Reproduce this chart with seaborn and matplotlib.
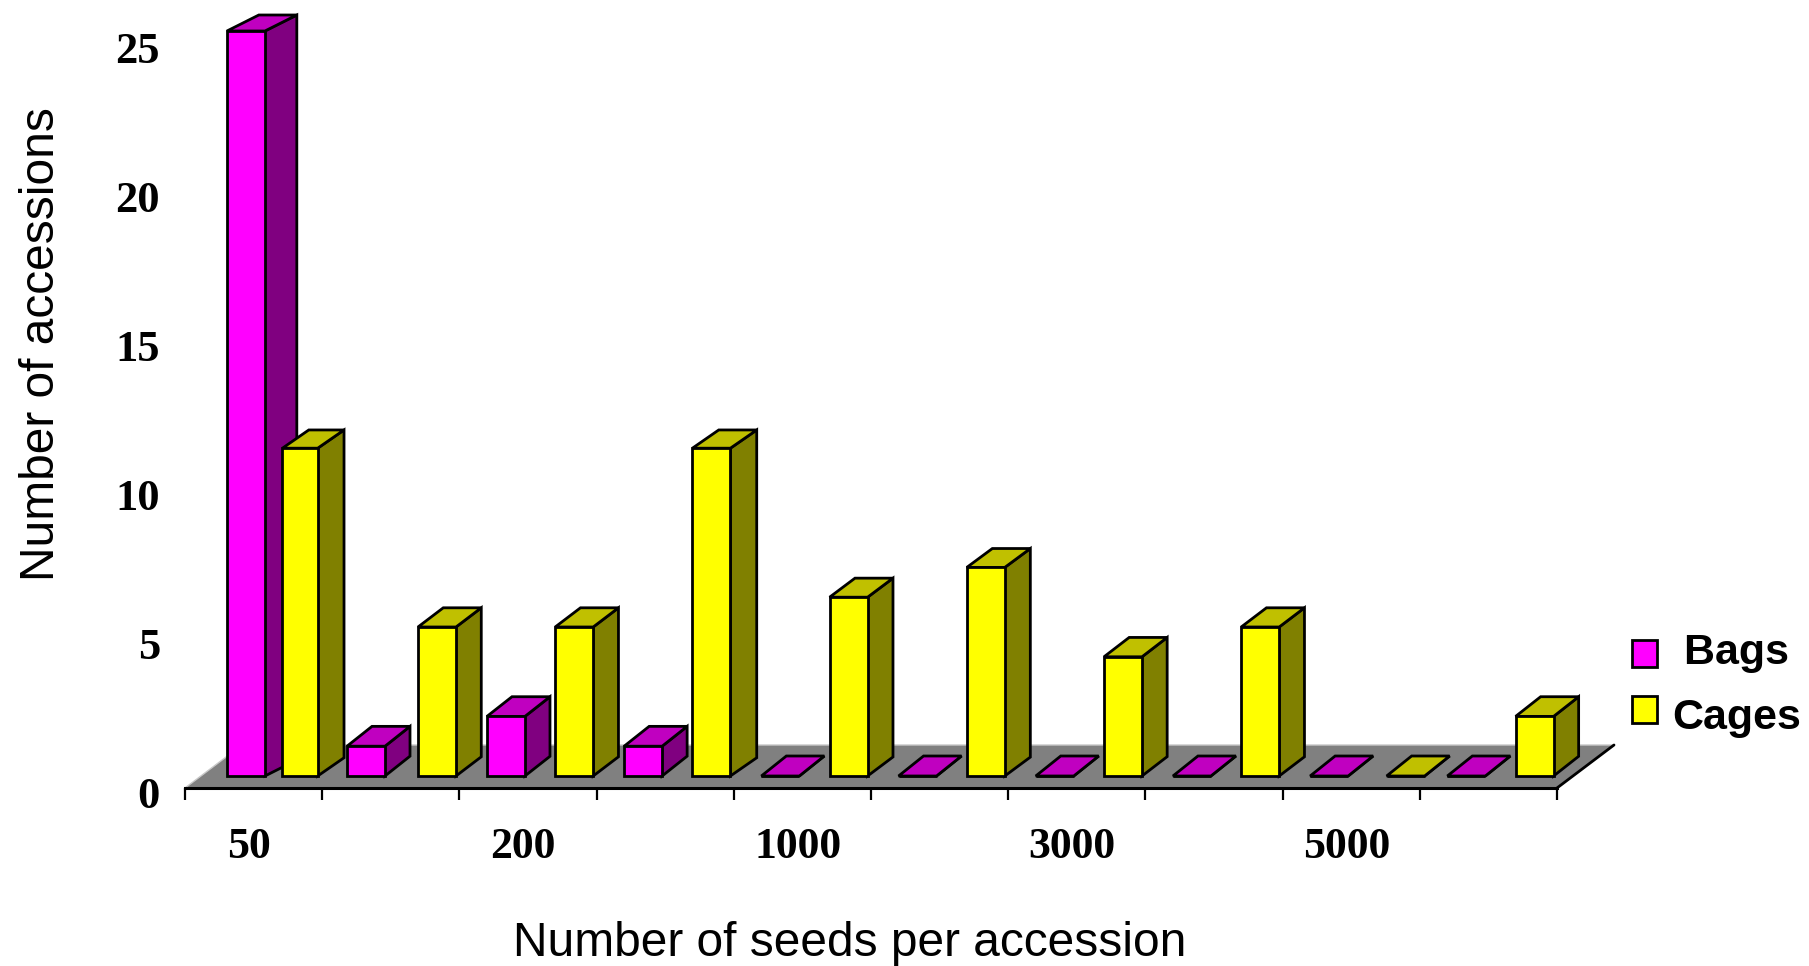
import matplotlib
matplotlib.use("Agg")
import matplotlib.pyplot as plt
import matplotlib.transforms as mtrans
from matplotlib.patches import Polygon
import numpy as np
import pandas as pd
import seaborn as sns

# values
bins = [1, 2, 3, 4, 5, 6, 7, 8, 9, 10]
bags = [25, 1, 2, 1, 0, 0, 0, 0, 0, 0]
cages = [11, 5, 5, 11, 6, 7, 4, 5, 0, 2]
bin_labels = ["50", "200", "1000", "3000", "5000"]
y_ticks = [0, 5, 10, 15, 20, 25]

front = {"Bags": "#FF00FF", "Cages": "#FFFF00"}
top = {"Bags": "#C000C0", "Cages": "#C0C000"}
side = {"Bags": "#800080", "Cages": "#808000"}

W, H = 1809, 966
X_UNIT = 137.2  # px per category
Y_UNIT = 29.8  # px per accession
LW = 2

sns.set_style("white")
plt.rcParams["font.family"] = ["Liberation Sans", "DejaVu Sans"]
plt.rcParams["text.color"] = "black"
plt.rcParams["axes.labelcolor"] = "black"
plt.rcParams["xtick.color"] = "black"
plt.rcParams["ytick.color"] = "black"
plt.rcParams["axes.edgecolor"] = "black"

df = pd.DataFrame({"bin": bins * 2,
                   "count": bags + cages,
                   "method": ["Bags"] * len(bins) + ["Cages"] * len(bins)})

fig = plt.figure(figsize=(W / 100, H / 100), dpi=100, facecolor="white")

# front edge of the floor: carries the ticks and the labels
ax_axis = fig.add_axes([185 / W, 1 - 788 / H, 1372 / W, 788 / H])
ax_axis.set_xlim(-0.5, 9.5)
ax_axis.set_ylim(0, 788 / Y_UNIT)
ax_axis.patch.set_visible(False)
for s in ["top", "right", "left"]:
    ax_axis.spines[s].set_visible(False)
ax_axis.spines["bottom"].set_linewidth(2.2)

floor_dx, floor_dy = 57 / X_UNIT, 43 / Y_UNIT
ax_axis.add_patch(Polygon([(-0.5, 0), (9.5, 0), (9.5 + floor_dx, floor_dy), (-0.5 + floor_dx, floor_dy)],
                          closed=True, facecolor="#808080", edgecolor="none", clip_on=False, zorder=1))
ax_axis.plot([-0.5, -0.5 + floor_dx, 9.5 + floor_dx], [0, floor_dy, floor_dy],
             color="#C8C8C8", lw=1, clip_on=False, zorder=1.1)
ax_axis.plot([9.5, 9.5 + floor_dx], [0, floor_dy], color="black", lw=LW, clip_on=False, zorder=1.2)

ax_axis.set_xticks(np.arange(-0.5, 10, 1))
ax_axis.tick_params(axis="x", which="major", length=8.6, width=1.6, color="black", labelbottom=False, bottom=True)
ax_axis.set_xticks(np.arange(0, 10, 2) - 0.035, minor=True)
ax_axis.set_xticklabels(bin_labels, minor=True, family="Liberation Serif", fontweight="bold", fontsize=31.5)
ax_axis.tick_params(axis="x", which="minor", length=0, pad=28)

ax_axis.set_yticks(y_ticks)
ax_axis.set_yticklabels([str(v) for v in y_ticks], family="Liberation Serif", fontweight="bold", fontsize=32)
ax_axis.tick_params(axis="y", length=0, pad=18)
shift = mtrans.ScaledTranslation(0, -3 / 72, fig.dpi_scale_trans)
for lab in ax_axis.get_yticklabels():
    lab.set_transform(lab.get_transform() + shift)

ax_axis.set_xlabel("Number of seeds per accession", fontsize=34.5, va="center")
ax_axis.xaxis.set_label_coords((850 - 185) / 1372, (788 - 944) / 788)
ax_axis.set_ylabel("Number of accessions", fontsize=34.5, va="center")
ax_axis.yaxis.set_label_coords((41.5 - 185) / 1372, (788 - 344) / 788)

# bars sit on a plane slightly behind the front edge of the floor
ax = fig.add_axes([195.7 / W, 1 - 776 / H, 1372 / W, 776 / H])
sns.barplot(data=df, x="bin", y="count", hue="method", palette=front, saturation=1,
            width=1.035, gap=0.465, edgecolor="black", linewidth=LW, ax=ax)
ax.set_xlim(-0.5, 9.5)
ax.set_ylim(0, 776 / Y_UNIT)
ax.patch.set_visible(False)
ax.axis("off")

# the bars are not quite regularly spaced in the original
for bar in list(ax.containers[0])[2:]:
    bar.set_x(bar.get_x() + 0.02)
ax.containers[0][0].set_x(ax.containers[0][0].get_x() + 0.125)
ax.containers[1][0].set_x(ax.containers[1][0].get_x() + 0.012)
ax.containers[1][0].set_width(ax.containers[1][0].get_width() - 0.02)
ax.containers[1][8].set_x(ax.containers[1][8].get_x() + 0.06)

# depth faces for every bar, left to right so nearer bars overlap
items = []
for name, cont in zip(["Bags", "Cages"], ax.containers):
    for bar in cont:
        items.append((bar.get_x(), name, bar))
items.sort(key=lambda t: t[0])

for i, (x0, name, bar) in enumerate(items):
    z = 3 + i
    x1 = x0 + bar.get_width()
    v = bar.get_height()
    dx = (25 + 0.011 * v ** 2) / X_UNIT
    dy = (20 - 0.16 * v) / Y_UNIT
    bar.set_zorder(z + 0.5)
    bar.set_clip_on(False)
    ax.add_patch(Polygon([(x1, 0), (x1 + dx, dy), (x1 + dx, v + dy), (x1, v)], closed=True,
                         facecolor=side[name], edgecolor="black", lw=LW, joinstyle="miter",
                         clip_on=False, zorder=z))
    ax.add_patch(Polygon([(x0, v), (x0 + dx, v + dy), (x1 + dx, v + dy), (x1, v)], closed=True,
                         facecolor=top[name], edgecolor="black", lw=LW, joinstyle="miter",
                         clip_on=False, zorder=z))

handles, labels = ax.get_legend_handles_labels()
leg = ax.legend(handles, [" Bags", "Cages"], loc="upper left", bbox_to_anchor=(1632 / W, 1 - 638 / H),
                bbox_transform=fig.transFigure, frameon=False, borderpad=0, borderaxespad=0,
                handlelength=0.58, handleheight=0.58, handletextpad=0.36, labelspacing=0.36,
                prop={"family": "Liberation Sans", "weight": "bold", "size": 31})
# the Cages text sits a little lower than its square
leg.get_texts()[1].set_y(-5)
leg.get_texts()[0].set_y(5)

fig.savefig("out.png", dpi=100, facecolor="white")
